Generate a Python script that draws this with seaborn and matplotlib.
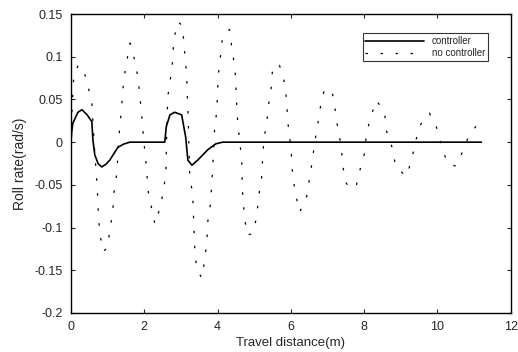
import numpy as np
import pandas as pd
import matplotlib
matplotlib.use('Agg')
import matplotlib.pyplot as plt
import seaborn as sns

# controlled roll rate
ctrl_x = [0, 0.02, 0.05, 0.19, 0.3, 0.44, 0.57, 0.6, 0.65, 0.74, 0.84, 0.95, 1.06, 1.28, 1.45, 1.61,
          2.56, 2.6, 2.7, 2.83, 3.02, 3.13, 3.19, 3.3, 3.46, 3.73, 3.95, 4.14, 11.2]
ctrl_y = [0, 0.012, 0.022, 0.035, 0.038, 0.032, 0.024, 0.002, -0.015, -0.025, -0.029, -0.026, -0.021,
          -0.006, -0.002, 0, 0, 0.018, 0.032, 0.035, 0.032, 0.006, -0.021, -0.027, -0.021, -0.009,
          -0.002, 0, 0]

# roll rate without controller
free_x = [0, 0.03, 0.08, 0.2, 0.33, 0.46, 0.57, 0.65, 0.7, 0.73, 0.75, 0.79, 0.87, 1.0, 1.06, 1.14,
          1.17, 1.25, 1.28, 1.31, 1.36, 1.4, 1.44, 1.52, 1.61, 1.74, 1.83, 1.88, 1.93, 1.97, 2.02,
          2.07, 2.1, 2.2, 2.29, 2.43, 2.53, 2.59, 2.61, 2.64, 2.72, 2.78, 2.8, 2.92, 3.05, 3.08,
          3.13, 3.16, 3.18, 3.2, 3.24, 3.32, 3.34, 3.36, 3.38, 3.43, 3.57, 3.65, 3.71, 3.73, 3.81,
          3.84, 3.87, 3.92, 3.98, 4.0, 4.03, 4.09, 4.14, 4.33, 4.39, 4.47, 4.5, 4.52, 4.55, 4.66,
          4.67, 4.69, 4.74, 4.8, 4.96, 5.07, 5.12, 5.2, 5.23, 5.26, 5.34, 5.4, 5.48, 5.5, 5.69,
          5.83, 5.89, 5.91, 5.97, 6.02, 6.05, 6.13, 6.24, 6.43, 6.51, 6.59, 6.65, 6.73, 6.81,
          6.92, 7.14, 7.22, 7.28, 7.38, 7.41, 7.52, 7.77, 7.87, 8.01, 8.06, 8.17, 8.34, 8.56,
          8.61, 8.77, 8.86, 9.15, 9.29, 9.4, 9.51, 9.78, 9.97, 10.1, 10.27, 10.5, 10.7, 10.87,
          11.14]
free_y = [0, 0.04, 0.08, 0.09, 0.087, 0.067, 0.045, -0.013, -0.042, -0.064, -0.087, -0.107, -0.128,
          -0.124, -0.103, -0.082, -0.06, -0.037, -0.015, 0.007, 0.03, 0.051, 0.073, 0.094, 0.116,
          0.096, 0.075, 0.053, 0.032, 0.01, -0.013, -0.035, -0.056, -0.077, -0.096, -0.077,
          -0.056, -0.034, 0.005, 0.053, 0.076, 0.097, 0.12, 0.141, 0.136, 0.115, 0.093, 0.072,
          0.049, 0.027, -0.039, -0.061, -0.083, -0.105, -0.127, -0.149, -0.159, -0.138, -0.116,
          -0.094, -0.072, -0.05, -0.028, 0.016, 0.037, 0.061, 0.082, 0.104, 0.125, 0.132, 0.11,
          0.088, 0.067, 0.046, 0.023, -0.021, -0.043, -0.066, -0.088, -0.109, -0.107, -0.087,
          -0.064, -0.042, -0.021, 0.002, 0.023, 0.046, 0.068, 0.089, 0.09, 0.069, 0.047, 0.026,
          0.005, -0.018, -0.04, -0.061, -0.082, -0.064, -0.042, -0.021, 0, 0.02, 0.042, 0.063,
          0.056, 0.035, 0.016, -0.006, -0.027, -0.049, -0.054, -0.035, -0.013, 0.008, 0.029,
          0.049, 0.034, 0.013, -0.007, -0.029, -0.04, -0.022, 0.0, 0.019, 0.034, 0.018, -0.002,
          -0.025, -0.028, -0.01, 0.009, 0.023]

sns.set_style('white')
plt.rcParams['font.family'] = ['Liberation Sans', 'DejaVu Sans']

ctrl_df = pd.DataFrame({'x': ctrl_x, 'y': ctrl_y})
free_df = pd.DataFrame({'x': free_x, 'y': free_y})

fig = plt.figure(figsize=(5.18, 3.52), dpi=100)
ax = fig.add_axes([0.137, 0.111, 0.849, 0.849])

sns.lineplot(data=ctrl_df, x='x', y='y', sort=False, estimator=None, ax=ax,
             color='black', linewidth=1.2, label='controller')
sns.lineplot(data=free_df, x='x', y='y', sort=False, estimator=None, ax=ax,
             color='black', linewidth=0.9, linestyle=(0, (2, 10)), label='no controller')

ax.set_xlim(0, 12)
ax.set_ylim(-0.2, 0.15)
ax.set_xticks(np.arange(0, 13, 2))
yt = [-0.2, -0.15, -0.1, -0.05, 0, 0.05, 0.1, 0.15]
ax.set_yticks(yt)
ax.set_yticklabels(['-0.2', '-0.15', '-0.1', '-0.05', '0', '0.05', '0.1', '0.15'])
ax.tick_params(direction='in', length=3, labelsize=9, top=True, right=True,
               bottom=True, left=True)
ax.tick_params(axis='x', pad=6)
ax.tick_params(axis='y', pad=6)
for s in ax.spines.values():
    s.set_color('black')
    s.set_linewidth(1.0)

ax.set_xlabel('Travel distance(m)', fontsize=9.5, labelpad=3)
ax.set_ylabel('Roll rate(rad/s)', fontsize=10, labelpad=5)

leg = ax.legend(loc='upper right', bbox_to_anchor=(0.948, 0.936), borderaxespad=0,
                fontsize=7, frameon=True, fancybox=False, edgecolor='black',
                handlelength=6, borderpad=0.3, labelspacing=0.2)
leg.get_frame().set_linewidth(0.8)

fig.savefig('out.png', dpi=100)
